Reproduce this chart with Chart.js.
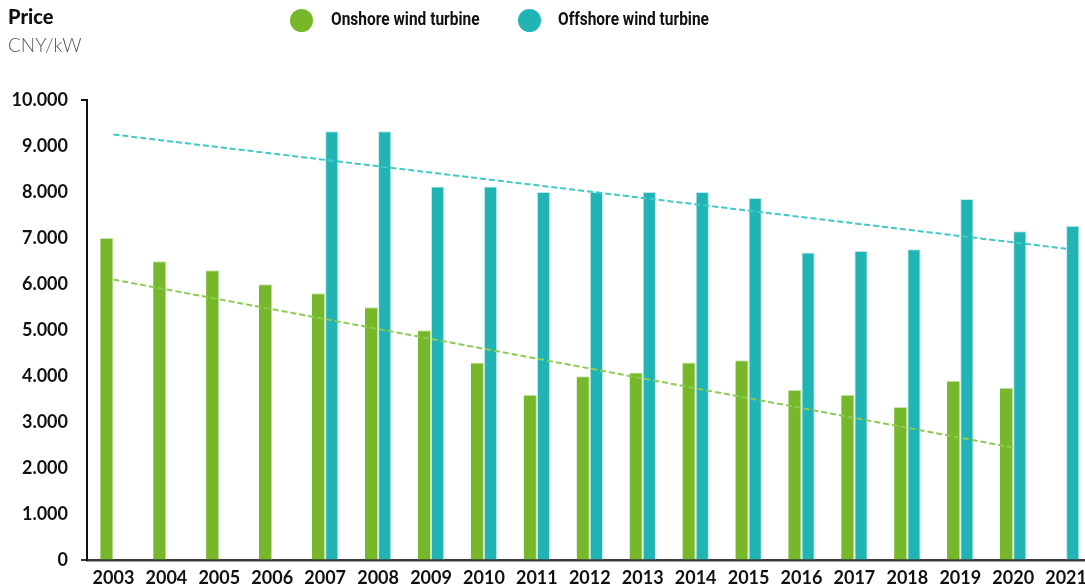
<!DOCTYPE html>
<html><head><meta charset="utf-8">
<script src="https://cdn.jsdelivr.net/npm/chart.js@4"></script>
<style>
html,body{margin:0;padding:0;background:#fff;overflow:hidden;width:1085px;height:584px;}
#wrap{position:absolute;left:0;top:0;width:1094px;height:596px;}
.t{position:absolute;white-space:nowrap;}
#title{left:8px;top:4px;font:900 20px "Lato",sans-serif;color:#111;}
#unit{left:8px;top:33px;font:300 19px "Lato",sans-serif;color:#555;}
.dot{position:absolute;width:23px;height:23px;border-radius:50%;}
.lg{font:bold 18px "Roboto",sans-serif;color:#111;top:8px;transform:scaleX(0.86);transform-origin:left center;}
</style></head><body>
<div id="wrap"><canvas id="c" width="1094" height="596"></canvas></div>
<div id="title" class="t">Price</div>
<div id="unit" class="t">CNY/kW</div>
<div class="dot" style="left:290px;top:9px;background:#76b82a"></div>
<div class="t lg" style="left:331px">Onshore wind turbine</div>
<div class="dot" style="left:518px;top:9px;background:#21b4b4"></div>
<div class="t lg" style="left:558px">Offshore wind turbine</div>
<script>
const years = ['2003','2004','2005','2006','2007','2008','2009','2010','2011','2012','2013','2014','2015','2016','2017','2018','2019','2020','2021'];
const onshore = [7000,6500,6300,6000,5800,5500,5000,4300,3600,4000,4080,4300,4350,3700,3600,3330,3900,3750,null];
const offshore = [null,null,null,null,9320,9320,8120,8120,8000,8000,8000,8000,7870,6690,6720,6760,7850,7150,7270];
const onshoreTrend = [6100,null,null,null,null,null,null,null,null,null,null,null,null,null,null,null,null,2450,null];
const offshoreTrend = [9250,null,null,null,null,null,null,null,null,null,null,null,null,null,null,null,null,null,6770];
const yTicks = [0,1000,2000,3000,4000,5000,6000,7000,8000,9000,10000];

const fmt = v => v === 0 ? '0' : (v/1000).toFixed(0) + '.000';

new Chart(document.getElementById('c'), {
  data: {
    labels: years,
    datasets: [
      {type:'line', data: offshoreTrend, borderColor:'#3fc9c9', borderWidth:2, borderDash:[6,3], pointRadius:0, spanGaps:true, order:0},
      {type:'line', data: onshoreTrend, borderColor:'#8ccc55', borderWidth:2, borderDash:[6,3], pointRadius:0, spanGaps:true, order:0},
      {type:'bar', label:'Onshore wind turbine', data: onshore, backgroundColor:'#76b82a', borderColor:'#c8e6b0', borderWidth:{top:1,left:0,right:1,bottom:0}, categoryPercentage:0.5, barPercentage:1, order:1},
      {type:'bar', label:'Offshore wind turbine', data: offshore, backgroundColor:'#21b4b4', borderColor:'#c0eaea', borderWidth:{top:1,left:1,right:1,bottom:0}, categoryPercentage:0.5, barPercentage:1, order:1}
    ]
  },
  options: {
    responsive:false, animation:false,
    layout:{padding:{top:100,left:0,right:0,bottom:0}},
    plugins:{legend:{display:false}, tooltip:{enabled:false}},
    scales:{
      x:{
        grid:{display:false, drawTicks:false},
        border:{display:true, color:'#3a3a3a', width:2.5},
        ticks:{color:'#111', font:{family:'Lato', weight:'bold', size:18}, padding:7, maxRotation:0, autoSkip:false}
      },
      y:{
        min:0, max:10000,
        afterFit: s => { s.width = 87; },
        afterBuildTicks: s => { s.ticks = yTicks.map(v => ({value:v})); },
        grid:{drawOnChartArea:false, tickLength:6, lineWidth:2, color: c => (c.tick && (c.tick.value===10000)) ? '#111' : (c.tick && c.tick.value===0 ? '#3a3a3a' : 'rgba(0,0,0,0)')},
        border:{display:true, color:'#111', width:2},
        ticks:{color:'#111', font:{family:'Lato', weight:'bold', size:18}, padding:13, callback: v => fmt(v)}
      }
    }
  }
});
</script>
</body></html>
